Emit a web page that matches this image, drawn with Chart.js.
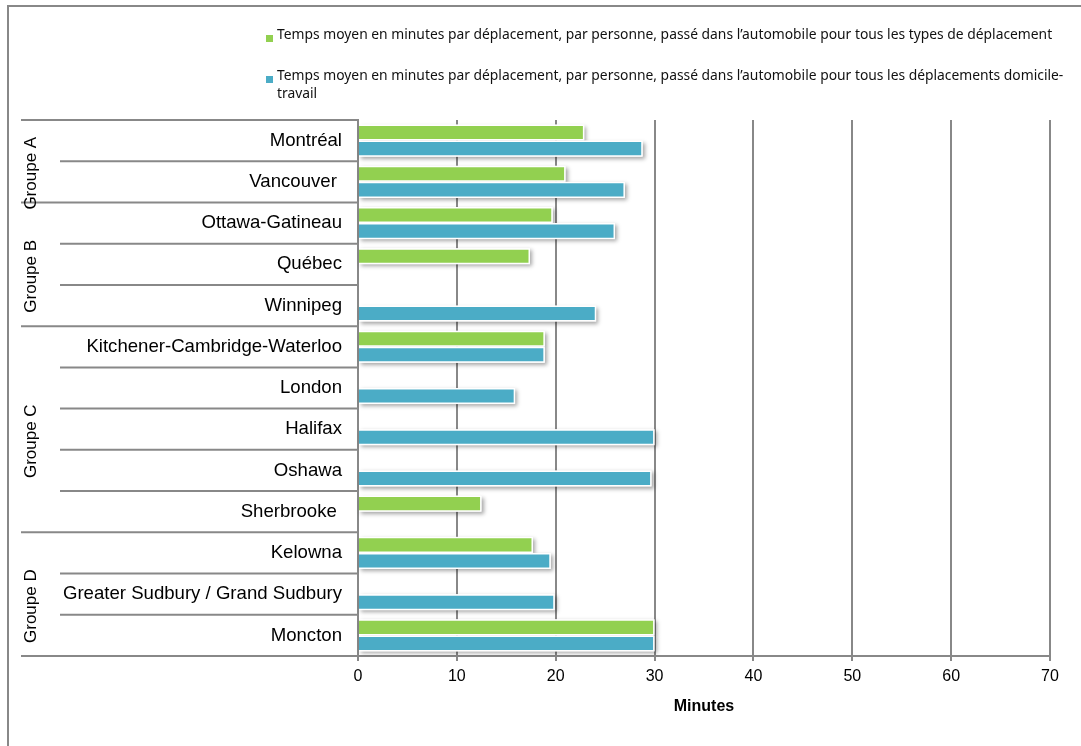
<!DOCTYPE html>
<html lang="fr">
<head>
<meta charset="utf-8">
<script src="https://cdn.jsdelivr.net/npm/chart.js@4/dist/chart.umd.min.js"></script>
<style>
  body { margin: 0; background: #fff; }
  #cadre { position: relative; width: 1081px; height: 746px; }
  #graphique { position: absolute; left: 0; top: 0; }
  .legende {
    position: absolute;
    left: 266px;
    padding-left: 11px;
    font-family: "Noto Sans", sans-serif;
    font-size: 13.85px;
    line-height: 18px;
    color: #111;
    white-space: nowrap;
  }
  .legende .carre {
    position: absolute;
    left: 0;
    top: 10px;
    width: 7px;
    height: 7px;
  }
</style>
</head>
<body>
<div id="cadre">
  <canvas id="graphique" width="1081" height="746"></canvas>
  <div class="legende" style="top:25px"><span class="carre" style="background:#92D050"></span>Temps moyen en minutes par déplacement, par personne, passé dans l’automobile pour tous les types de déplacement</div>
  <div class="legende" style="top:66px"><span class="carre" style="background:#4BACC6"></span>Temps moyen en minutes par déplacement, par personne, passé dans l’automobile pour tous les déplacements domicile-<br>travail</div>
</div>
<script>
const villes = [
  'Montréal', 'Vancouver ', 'Ottawa-Gatineau', 'Québec', 'Winnipeg',
  'Kitchener-Cambridge-Waterloo', 'London', 'Halifax', 'Oshawa', 'Sherbrooke ',
  'Kelowna', 'Greater Sudbury / Grand Sudbury', 'Moncton'
];
// minutes, tous les types de déplacement (null = pas de donnée)
const tousTypes = [22.9, 21.0, 19.7, 17.4, null, 18.9, null, null, null, 12.5, 17.7, null, 30.0];
// minutes, déplacements domicile-travail
const domicileTravail = [28.8, 27.0, 26.0, null, 24.1, 18.9, 15.9, 30.0, 29.7, null, 19.5, 19.9, 30.0];
const graduations = [0, 10, 20, 30, 40, 50, 60, 70];
// nom du groupe, première et dernière ville du groupe
const groupes = [
  ['Groupe A', 0, 1],
  ['Groupe B', 2, 4],
  ['Groupe C', 5, 9],
  ['Groupe D', 10, 12]
];

const police = 'Liberation Sans, Arial, sans-serif';
const gris = '#888888';

// fond blanc + cadre gauche/haut
const cadre = {
  id: 'cadre',
  beforeDraw(chart) {
    const c = chart.ctx;
    c.save();
    c.fillStyle = '#fff';
    c.fillRect(0, 0, chart.width, chart.height);
    c.strokeStyle = gris;
    c.lineWidth = 2;
    c.beginPath();
    c.moveTo(8, chart.height);
    c.lineTo(8, 6);
    c.lineTo(chart.width, 6);
    c.stroke();
    c.restore();
  }
};

// lignes de séparation des villes et étiquettes des groupes
const separateurs = {
  id: 'separateurs',
  afterDraw(chart) {
    const y = chart.scales.y;
    const c = chart.ctx;
    const droite = y.right;
    const pas = y.getPixelForValue(1) - y.getPixelForValue(0);
    const limite = i => y.getPixelForValue(i) - pas / 2;
    const finsGroupes = groupes.map(g => g[2] + 1);
    c.save();
    c.strokeStyle = gris;
    c.lineWidth = 2;
    for (let i = 0; i <= villes.length; i++) {
      const gauche = (i === 0 || finsGroupes.includes(i)) ? 21 : 60;
      const yy = limite(i);
      c.beginPath();
      c.moveTo(gauche, yy);
      c.lineTo(droite, yy);
      c.stroke();
    }
    c.fillStyle = '#000';
    c.font = '17px ' + police;
    c.textAlign = 'center';
    c.textBaseline = 'middle';
    groupes.forEach(([nom, debut, fin]) => {
      const milieu = (limite(debut) + limite(fin + 1)) / 2 + 12;
      c.save();
      c.translate(31, milieu);
      c.rotate(-Math.PI / 2);
      c.fillText(nom, 0, 0);
      c.restore();
    });
    c.restore();
  }
};

// ombre portée sous chaque barre
const ombre = {
  id: 'ombre',
  beforeDatasetsDraw(chart) {
    const c = chart.ctx;
    c.save();
    c.shadowColor = 'rgba(0,0,0,0.35)';
    c.shadowBlur = 4;
    c.shadowOffsetX = 2;
    c.shadowOffsetY = 2;
    c.fillStyle = '#fff';
    chart.data.datasets.forEach((ds, i) => {
      chart.getDatasetMeta(i).data.forEach((bar, j) => {
        if (ds.data[j] == null) return;
        const p = bar.getProps(['x', 'y', 'base', 'height'], true);
        c.fillRect(p.base, p.y - p.height / 2, p.x - p.base, p.height);
      });
    });
    c.restore();
  }
};

new Chart(document.getElementById('graphique'), {
  type: 'bar',
  data: {
    labels: villes,
    datasets: [
      {
        label: 'Temps moyen en minutes par déplacement, par personne, passé dans l’automobile pour tous les types de déplacement',
        data: tousTypes,
        backgroundColor: '#92D050',
        borderColor: '#fff',
        borderWidth: 1.5
      },
      {
        label: 'Temps moyen en minutes par déplacement, par personne, passé dans l’automobile pour tous les déplacements domicile-travail',
        data: domicileTravail,
        backgroundColor: '#4BACC6',
        borderColor: '#fff',
        borderWidth: 1.5
      }
    ]
  },
  options: {
    indexAxis: 'y',
    responsive: false,
    animation: false,
    categoryPercentage: 0.78,
    barPercentage: 1.0,
    layout: { padding: { top: 120, right: 31, bottom: 30, left: 0 } },
    plugins: {
      legend: { display: false },
      tooltip: { enabled: false }
    },
    scales: {
      x: {
        min: graduations[0],
        max: graduations[graduations.length - 1],
        afterBuildTicks(s) { s.ticks = graduations.map(v => ({ value: v })); },
        afterFit(s) { s.height = 60; },
        ticks: { color: '#000', font: { family: police, size: 16 }, padding: 6 },
        grid: { color: gris, lineWidth: 2, tickLength: 5, tickColor: gris },
        border: { color: gris, width: 2 },
        title: {
          display: true,
          text: 'Minutes',
          color: '#000',
          font: { family: police, size: 16, weight: 'bold' },
          padding: { top: 4, bottom: 0 }
        }
      },
      y: {
        afterFit(s) { s.width = 358; },
        ticks: { color: '#000', font: { family: police, size: 18.6 }, padding: 16 },
        grid: { display: false, drawTicks: false },
        border: { color: gris, width: 2 }
      }
    }
  },
  plugins: [cadre, ombre, separateurs]
});
</script>
</body>
</html>
